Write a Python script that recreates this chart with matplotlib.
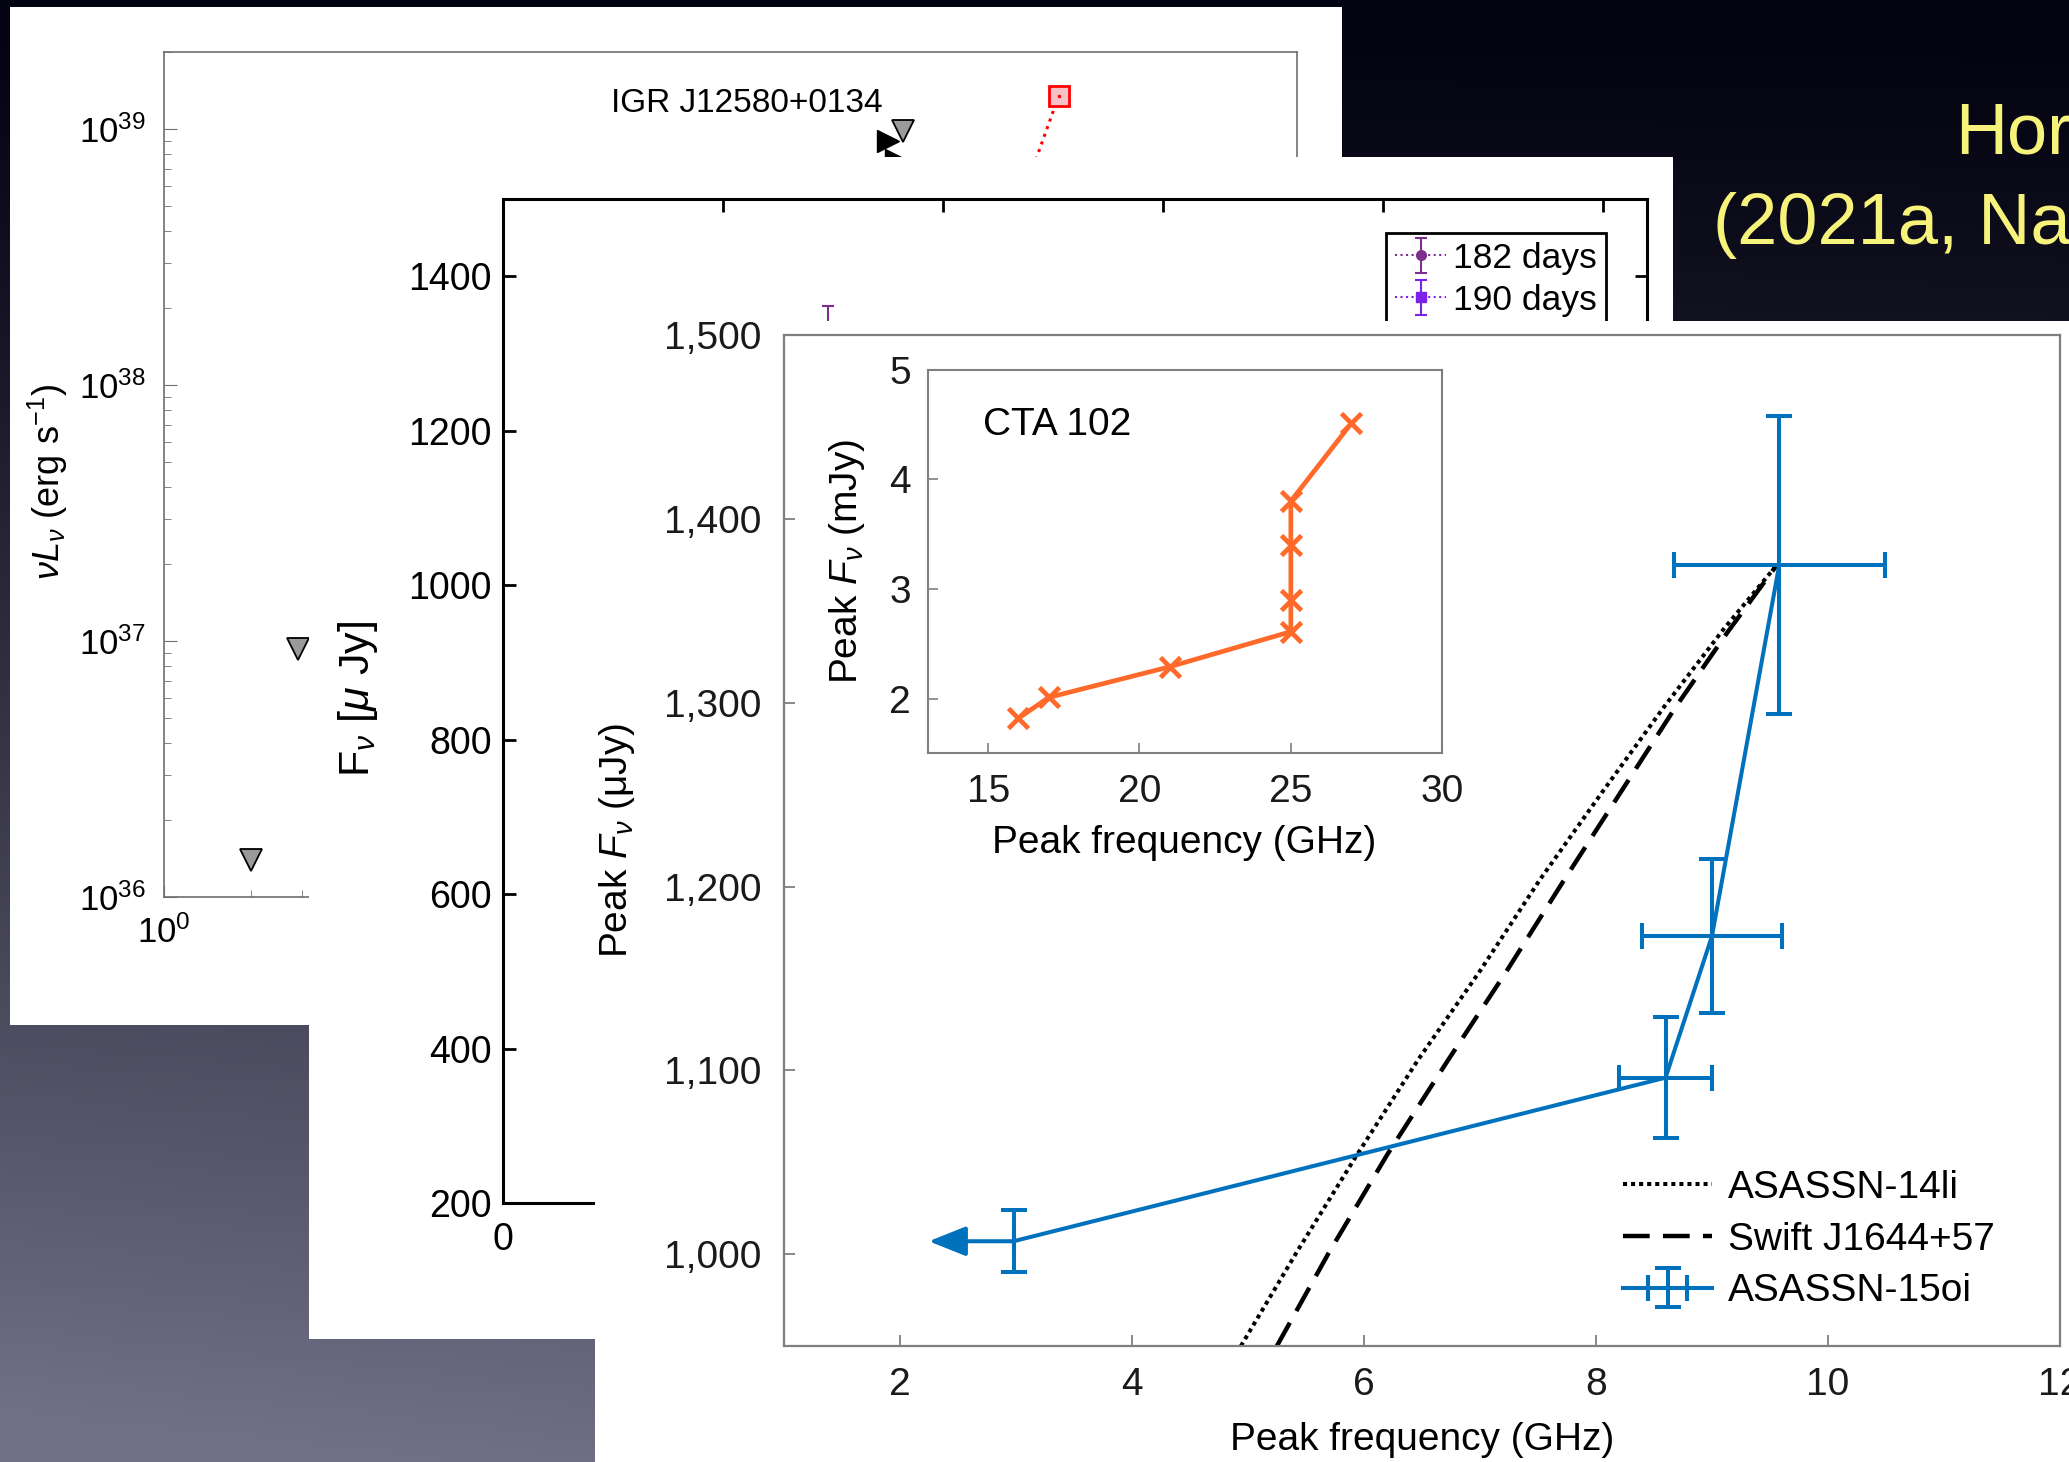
import numpy as np
import matplotlib
matplotlib.use('Agg')
import matplotlib.pyplot as plt
from matplotlib.ticker import MultipleLocator, FuncFormatter, FixedLocator

W, H = 2069, 1462

# ---------------- data ----------------
# back panel: luminosity vs time (log-log)
igr_label = 'IGR J12580+0134'
grey_t = [2.0, 2.9, 349.0]
grey_l = [1.39e36, 9.3e36, 9.8e38]
black_t = [311.0, 330.0]
black_l = [8.97e38, 7.6e38]
red_t = [1203.0, 748.0]
red_l = [1.35e39, 3.0e38]

# middle panel: flux density vs frequency
days_labels = ['182 days', '190 days']
mid_x = [74.0]
mid_y = [1310.0]
mid_err = [52.0]

# front panel: ASASSN-15oi peak evolution
nu_peak = [2.98, 8.60, 9.00, 9.58]
f_peak = [1007, 1096, 1173, 1375]
nu_err = [0.0, 0.40, 0.60, 0.91]
f_err = [17, 33, 42, 81]
nu_limit = 2.25

li14_nu = [4.94, 5.43, 5.93, 6.47, 7.00, 7.52, 8.05, 8.59, 9.10, 9.56]
li14_f = [950, 1002, 1053, 1106, 1154, 1204, 1251, 1298, 1340, 1375]
j1644_nu = [5.25, 5.70, 6.20, 6.73, 7.22, 7.72, 8.20, 8.68, 9.13, 9.56]
j1644_f = [950, 1001, 1054, 1106, 1153, 1203, 1250, 1297, 1338, 1375]

# inset: CTA 102
cta_nu = [16, 17, 21, 25, 25, 25, 25, 27]
cta_f = [1.82, 2.01, 2.29, 2.61, 2.90, 3.40, 3.80, 4.51]

legend_labels = ['ASASSN-14li', 'Swift J1644+57', 'ASASSN-15oi']

blue = '#0072BD'
orange = '#ff6a2b'
grey = '#7f7f7f'

plt.rcParams['font.family'] = ['Liberation Sans', 'DejaVu Sans']
plt.rcParams['mathtext.fontset'] = 'custom'
plt.rcParams['mathtext.rm'] = 'Liberation Sans'
plt.rcParams['mathtext.it'] = 'Liberation Sans:italic'
plt.rcParams['mathtext.bf'] = 'Liberation Sans:bold'


def frac(l, t, r, b):
    # pixel box (left, top, right, bottom) -> figure fraction
    return [l / W, 1 - b / H, (r - l) / W, (b - t) / H]


def fig_xy(x, y):
    return (x / W, 1 - y / H)


fig = plt.figure(figsize=(W / 100, H / 100), dpi=100)

# background slide gradient
bg = fig.add_axes([0, 0, 1, 1], zorder=0)
yy, xx = np.mgrid[0:1:300j, 0:1:400j]
s = np.clip(yy ** 1.2 * (1.0 - 0.15 * xx) + 0.04 * yy * (1 - xx), 0, 1)
dark = np.array([2, 2, 16]) / 255
light = np.array([112, 112, 134]) / 255
bg.imshow(dark + s[..., None] * (light - dark), aspect='auto')
bg.axis('off')
bg.text(*fig_xy(1955, 153), 'Hor', transform=fig.transFigure, va='baseline',
        ha='left', fontsize=52, color='#f7f27a')
bg.text(*fig_xy(1713, 244), '(2021a, Na', transform=fig.transFigure, va='baseline',
        ha='left', fontsize=52, color='#f7f27a')


def white_panel(l, t, r, b, z):
    p = fig.add_axes(frac(l, t, r, b), zorder=z)
    p.set_facecolor('white')
    p.set_xticks([])
    p.set_yticks([])
    for sp in p.spines.values():
        sp.set_visible(False)
    return p


# ---------------- back panel ----------------
white_panel(10, 7, 1342, 1025, 1)
ax1 = fig.add_axes(frac(163.6, 51.5, 1297, 897), zorder=2)
ax1.set_facecolor('none')
ax1.set_xscale('log')
ax1.set_yscale('log')
ax1.set_xlim(1, 10 ** 3.9)
ax1.set_ylim(1e36, 2.01e39)
ax1.xaxis.set_major_locator(FixedLocator([1]))
for sp in ax1.spines.values():
    sp.set_color('#6e6e6e')
    sp.set_linewidth(1.2)
ax1.tick_params(which='both', direction='in', color='#6e6e6e', labelsize=25, pad=13)
ax1.tick_params(which='major', length=9)
ax1.tick_params(which='minor', length=5)
ax1.plot(red_t, red_l, ':', color='red', lw=2.2)
ax1.plot(red_t[0], red_l[0], 's', ms=15, mfc='#f6c1c7', mec='red', mew=2)
ax1.plot(red_t[0], red_l[0], '.', color='red', ms=3)
ax1.plot(grey_t, grey_l, 'v', ls='none', ms=16, mfc='#9a9a9a', mec='k', mew=1.3)
ax1.plot(black_t, black_l, '>', ls='none', ms=16, color='k')
ax1.text(*fig_xy(747, 103), igr_label, transform=fig.transFigure, ha='center',
         va='center', fontsize=24)
ax1.set_ylabel(r'$\nu L_\nu$ (erg s$^{-1}$)', fontsize=26)
ax1.yaxis.set_label_coords(*fig_xy(70, 482), transform=fig.transFigure)

# ---------------- middle panel ----------------
white_panel(309, 157, 1673, 1339, 3)
ax2 = fig.add_axes(frac(502.7, 199, 1647, 1203), zorder=4)
ax2.set_facecolor('none')
ax2.set_xlim(0, 260)
ax2.set_ylim(200, 1500)
ax2.xaxis.set_major_locator(MultipleLocator(50))
ax2.yaxis.set_major_locator(MultipleLocator(200))
for sp in ax2.spines.values():
    sp.set_color('k')
    sp.set_linewidth(2.2)
ax2.tick_params(direction='in', length=9, width=2, top=True, right=True, labelsize=27)
ax2.tick_params(axis='y', pad=8)
ax2.tick_params(axis='x', pad=14)
e182 = ax2.errorbar(mid_x, mid_y, yerr=mid_err, fmt=':o', color='#7e2f8e', ms=7,
                    lw=1.5, capsize=4, capthick=1.5, mfc='#7e2f8e')
e190 = ax2.errorbar([np.nan], [np.nan], yerr=[np.nan], fmt=':s', color='#7b22e8', ms=7,
                    lw=1.5, capsize=4, capthick=1.5)
leg2 = ax2.legend([e182, e190], days_labels, loc='upper left',
                  bbox_to_anchor=fig_xy(1386, 233), bbox_transform=fig.transFigure,
                  borderaxespad=0, fancybox=False, edgecolor='k', framealpha=1,
                  fontsize=25.5, handlelength=1.45, handletextpad=0.2, borderpad=0.25,
                  labelspacing=0.25)
leg2.get_frame().set_linewidth(2)
ax2.set_ylabel(r'F$_\nu$ [$\mu$ Jy]', fontsize=31)
ax2.yaxis.set_label_coords(*fig_xy(380, 699), transform=fig.transFigure)

# ---------------- front panel ----------------
white_panel(595, 321, W, H, 5)
ax3 = fig.add_axes(frac(783.8, 335.2, 2060, 1346), zorder=6)
ax3.set_facecolor('none')
ax3.set_xlim(1, 12)
ax3.set_ylim(950, 1500)
ax3.xaxis.set_major_locator(MultipleLocator(2))
ax3.yaxis.set_major_locator(MultipleLocator(100))
ax3.yaxis.set_major_formatter(FuncFormatter(lambda v, p: f'{v:,.0f}'))
for sp in ax3.spines.values():
    sp.set_color(grey)
    sp.set_linewidth(1.6)
ax3.tick_params(direction='in', length=8, width=1.3, color=grey, labelsize=28,
                labelcolor='#1a1a1a')
ax3.tick_params(axis='y', pad=16)
ax3.tick_params(axis='x', pad=15)

h14, = ax3.plot(li14_nu, li14_f, color='k', lw=2.9, linestyle=(0, (1, 1)))
hsw, = ax3.plot(j1644_nu, j1644_f, color='k', lw=3.2, linestyle=(0, (6, 3)))
e15 = ax3.errorbar(nu_peak, f_peak, xerr=nu_err, yerr=f_err, fmt='-', color=blue,
                   lw=2.9, elinewidth=2.9, capsize=9.4, capthick=2.9)
ax3.annotate('', xy=(nu_limit, f_peak[0]), xytext=(nu_peak[0], f_peak[0]),
             arrowprops=dict(arrowstyle='-|>,head_length=0.4,head_width=0.16',
                             color=blue, lw=2.9, mutation_scale=57,
                             shrinkA=0, shrinkB=0))
ax3.legend([h14, hsw, e15], legend_labels, loc='upper left',
           bbox_to_anchor=fig_xy(1623, 1170), bbox_transform=fig.transFigure,
           frameon=False, borderpad=0, borderaxespad=0, fontsize=28,
           handlelength=2.3, handletextpad=0.4, labelspacing=0.4)
ax3.set_xlabel('Peak frequency (GHz)', fontsize=28)
ax3.xaxis.set_label_coords(*fig_xy(1422, 1422), transform=fig.transFigure)
ax3.set_ylabel(r'Peak $F_\nu$ (μJy)', fontsize=28)
ax3.yaxis.set_label_coords(*fig_xy(637, 840), transform=fig.transFigure)

# ---------------- inset ----------------
ax4 = fig.add_axes(frac(927.6, 369.5, 1442.2, 753.4), zorder=7)
ax4.set_facecolor('white')
ax4.set_xlim(13, 30)
ax4.set_ylim(1.5, 5)
ax4.xaxis.set_major_locator(FixedLocator([15, 20, 25, 30]))
ax4.yaxis.set_major_locator(FixedLocator([2, 3, 4, 5]))
for sp in ax4.spines.values():
    sp.set_color(grey)
    sp.set_linewidth(1.5)
ax4.tick_params(direction='in', length=7, width=1.2, color=grey, labelsize=28,
                labelcolor='#1a1a1a')
ax4.tick_params(axis='y', pad=12)
ax4.tick_params(axis='x', pad=15)
ax4.plot(cta_nu, cta_f, '-x', color=orange, lw=3.4, ms=14, mew=3.4)
ax4.text(0.108, 0.856, 'CTA 102', transform=ax4.transAxes, va='center', ha='left',
         fontsize=28)
ax4.set_xlabel('Peak frequency (GHz)', fontsize=28)
ax4.xaxis.set_label_coords(*fig_xy(1184, 825), transform=fig.transFigure)
ax4.set_ylabel(r'Peak $F_\nu$ (mJy)', fontsize=28)
ax4.yaxis.set_label_coords(*fig_xy(867, 561), transform=fig.transFigure)

fig.savefig('out.png', dpi=100)
